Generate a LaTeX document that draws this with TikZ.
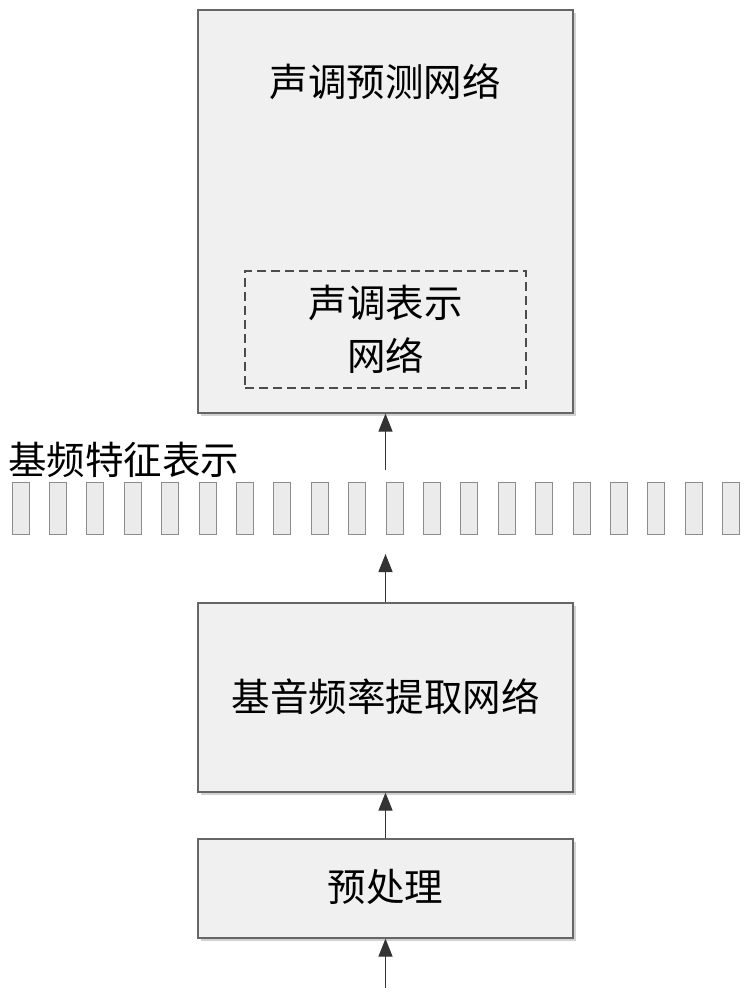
\documentclass[tikz,border=0pt]{standalone}
\usepackage{fontspec}
\newfontfamily\cjk{Noto Sans CJK SC}
\usetikzlibrary{arrows.meta,shadows}
\begin{document}
\begin{tikzpicture}[x=1pt,y=-1pt,
  blockbox/.style={draw=black!60, line width=1.2pt, fill=black!6, inner sep=0pt,
    drop shadow={shadow xshift=3pt, shadow yshift=-3pt, fill=black!25, opacity=0.7}},
  dashbox/.style={draw=black!70, line width=1.1pt, dash pattern=on 9pt off 5pt, inner sep=0pt},
  featbox/.style={draw=black!45, line width=0.8pt, fill=black!8, minimum width=17pt, minimum height=52pt, inner sep=0pt},
  flow/.style={draw=black!80, line width=1.2pt, -{Triangle[length=18pt,width=14pt]}},
  lbl/.style={font=\cjk\fontsize{38.5}{53}\selectfont, text=black, align=center}]
\useasboundingbox (0,0) rectangle (753,1000);
% top box
\node[blockbox, minimum width=375pt, minimum height=403pt] (tone) at (385.5,211.5) {};
\node[lbl] (tonetitle) at (385,82) {声调预测网络};
\node[dashbox, minimum width=281pt, minimum height=117pt] (rep) at (385.5,329.5) {};
\node[lbl] (reptext) at (385.5,329.5) {声调表示\\网络};
% feature label
\node[lbl, anchor=west, inner sep=0pt] (featlabel) at (8,460) {基频特征表示};
% feature rectangles
\foreach \i in {1,...,20} {
  \node[featbox] (f\i) at ({20.5+(\i-1)*37.4},508) {};
}
% middle box
\node[blockbox, minimum width=375pt, minimum height=189pt] (pitch) at (385.5,697.5) {};
\node[lbl] (pitchtext) at (385.5,697) {基音频率提取网络};
% bottom box
\node[blockbox, minimum width=375pt, minimum height=99pt] (pre) at (385.5,888.5) {};
\node[lbl] (pretext) at (385.5,887) {预处理};
% arrows
\coordinate (in) at (385.5,988);
\coordinate (featbot) at (385.5,554);
\coordinate (feattop) at (385.5,470);
\draw[flow] (in) -- (pre.south);
\draw[flow] (pre.north) -- (pitch.south);
\draw[flow] (pitch.north) -- (featbot);
\draw[flow] (feattop) -- (tone.south);
\end{tikzpicture}
\end{document}
